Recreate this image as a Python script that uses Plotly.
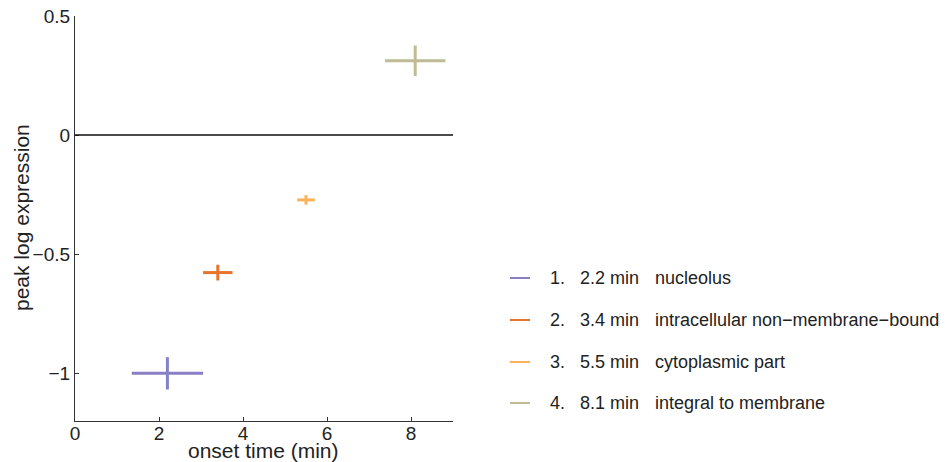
import plotly.graph_objects as go

# Onset time vs. peak log expression for four GO categories
labels = ["1.", "2.", "3.", "4."]
onset_text = ["2.2 min", "3.4 min", "5.5 min", "8.1 min"]
categories = ["nucleolus", "intracellular non\u2212membrane\u2212bound",
              "cytoplasmic part", "integral to membrane"]
onset = [2.2, 3.4, 5.5, 8.1]
onset_err = [0.85, 0.35, 0.21, 0.72]
peak = [-1.0, -0.577, -0.272, 0.312]
peak_err = [0.068, 0.033, 0.02, 0.064]
colors = ["#8880c6", "#e6742c", "#fbb25a", "#bfbc95"]

x_ticks = [0, 2, 4, 6, 8]
y_ticks = [-1, -0.5, 0, 0.5]
y_tick_text = ["\u22121", "\u22120.5", "0", "0.5"]

FONT = "Liberation Sans, Arial, sans-serif"
TXT = "#222222"

fig = go.Figure()

for i in range(len(onset)):
    fig.add_trace(go.Scatter(
        x=[onset[i]], y=[peak[i]], mode="markers",
        marker=dict(size=0.1, color=colors[i], opacity=0),
        error_x=dict(type="data", array=[onset_err[i]], color=colors[i],
                     thickness=3, width=0),
        error_y=dict(type="data", array=[peak_err[i]], color=colors[i],
                     thickness=3, width=0),
        showlegend=False, hoverinfo="skip",
    ))

# zero reference line
fig.add_shape(type="line", xref="x", yref="y", x0=0, x1=9, y0=0, y1=0,
              line=dict(color="#111111", width=1.5))

# plot-area geometry in pixels, used for paper-coordinate placement
L, R, T, B = 75, 492, 16, 41
PW, PH = 945 - L - R, 462 - T - B


def px(p):
    return (p - L) / PW


def py(q):
    return (462 - B - q) / PH


# axis titles
fig.add_annotation(xref="paper", yref="paper", x=px(263), y=py(451),
                   text="onset time (min)", showarrow=False,
                   xanchor="center", yanchor="middle",
                   font=dict(family=FONT, size=21, color=TXT))
fig.add_annotation(xref="paper", yref="paper", x=px(21), y=py(218),
                   text="peak log expression", showarrow=False, textangle=-90,
                   xanchor="center", yanchor="middle",
                   font=dict(family=FONT, size=21, color=TXT))

# hand-built legend: line swatch + three text columns
row_y = [278, 320, 362, 403]
for i in range(len(labels)):
    yy = py(row_y[i])
    fig.add_shape(type="line", xref="paper", yref="paper",
                  x0=px(510), x1=px(530), y0=yy, y1=yy,
                  line=dict(color=colors[i], width=2))
    for xpos, txt in [(550, labels[i]), (580, onset_text[i]), (655, categories[i])]:
        fig.add_annotation(xref="paper", yref="paper", x=px(xpos), y=yy,
                           text=txt, showarrow=False, xanchor="left",
                           yanchor="middle", xshift=-2,
                           font=dict(family=FONT, size=18, color=TXT))

fig.update_layout(
    width=945, height=462,
    margin=dict(l=L, r=R, t=T, b=B, pad=0),
    paper_bgcolor="white", plot_bgcolor="white",
    font=dict(family=FONT, size=19, color=TXT),
    xaxis=dict(range=[0, 9], tickvals=x_ticks, showgrid=False, zeroline=False,
               automargin=False,
               showline=True, linecolor="#333333", linewidth=1.3,
               ticks="inside", ticklen=4, tickcolor="#333333",
               ticklabelstandoff=-5,
               tickfont=dict(size=19, family=FONT, color=TXT)),
    yaxis=dict(range=[-1.2, 0.5], tickvals=y_ticks, ticktext=y_tick_text,
               showgrid=False, zeroline=False, automargin=False,
               showline=True, linecolor="#333333", linewidth=1.3,
               ticks="inside", ticklen=4, tickcolor="#333333",
               tickfont=dict(size=19, family=FONT, color=TXT)),
)

fig.write_html("out.html")
